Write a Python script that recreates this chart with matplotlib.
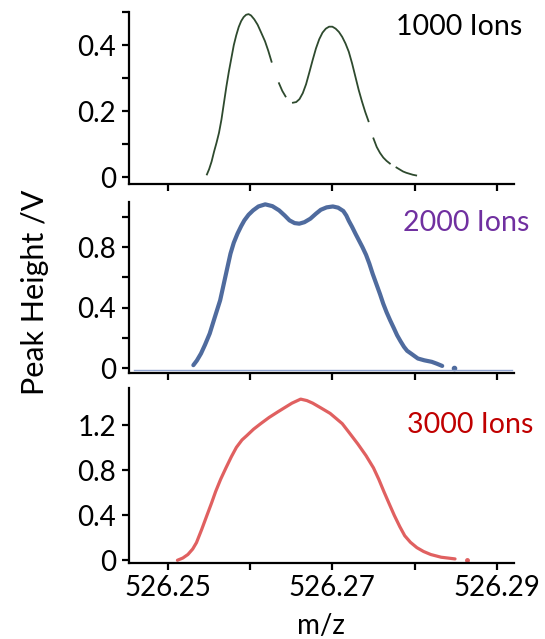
import numpy as np
import matplotlib
matplotlib.use('Agg')
import matplotlib.pyplot as plt

plt.rcParams['font.family'] = ['Lato', 'DejaVu Sans']

# 1000 ions trace (nan = gaps in the trace)
mz_1000 = [526.25473, 526.25500, 526.25530, 526.25560, 526.25590, 526.25620, 526.25650,
           526.25680, 526.25710, 526.25740, 526.25770, 526.25800, 526.25830, 526.25860,
           526.25890, 526.25920, 526.25950, 526.25980, 526.26010, 526.26050, 526.26090,
           526.26130, 526.26180, 526.26220, 526.26260, 526.26300, 526.26350, 526.26390,
           526.26430, 526.26470, 526.26520, 526.26560, 526.26600, 526.26640, 526.26680,
           526.26720, 526.26760, 526.26800, 526.26840, 526.26880, 526.26920, 526.26960,
           526.27000, 526.27040, 526.27080, 526.27120, 526.27160, 526.27200, 526.27240,
           526.27280, 526.27320, 526.27360, 526.27400, 526.27440, 526.27470, 526.27500,
           526.27540, 526.27580, 526.27620, 526.27660, 526.27700, 526.27740, 526.27780,
           526.27820, 526.27860, 526.27900, 526.27940, 526.27980, 526.28020]
pk_1000 = [0.009, 0.025, 0.048, 0.078, 0.105, 0.135, 0.175,
           0.225, 0.275, 0.320, 0.360, 0.400, 0.430, 0.455,
           0.473, 0.485, 0.492, 0.494, 0.490, 0.478, 0.462,
           0.440, 0.412, 0.383, 0.350, np.nan, 0.285, 0.262,
           0.245, np.nan, 0.226, 0.228, 0.237, 0.255, 0.282,
           0.318, 0.355, 0.390, 0.418, 0.438, 0.450, 0.456,
           0.456, 0.450, 0.440, 0.425, 0.405, 0.380, 0.345,
           0.305, 0.265, 0.230, 0.198, 0.170, np.nan, 0.118,
           0.092, 0.074, 0.060, 0.050, 0.042, np.nan, 0.030,
           0.024, 0.018, 0.014, 0.011, 0.008, 0.006]

# 2000 ions trace
mz_2000 = [526.25308, 526.25350, 526.25401, 526.25450, 526.25507, 526.25570, 526.25634,
           526.25665, 526.25697, 526.25730, 526.25760, 526.25800, 526.25845, 526.25890,
           526.25929, 526.25980, 526.26035, 526.26100, 526.26183, 526.26270, 526.26352,
           526.26420, 526.26478, 526.26540, 526.26597, 526.26660, 526.26732, 526.26800,
           526.26859, 526.26930, 526.27006, 526.27070, 526.27133, 526.27170, 526.27200,
           526.27240, 526.27281, 526.27365, 526.27410, 526.27450, 526.27490, 526.27534,
           526.27580, 526.27619, 526.27660, 526.27703, 526.27750, 526.27788, 526.27830,
           526.27872, 526.27910, 526.27957, 526.28000, 526.28041, 526.28120, 526.28210,
           526.28270, 526.28337]
pk_2000 = [0.020, 0.050, 0.097, 0.155, 0.229, 0.339, 0.449,
           0.525, 0.604, 0.685, 0.758, 0.830, 0.890, 0.940,
           0.978, 1.015, 1.044, 1.070, 1.084, 1.072, 1.044,
           1.010, 0.978, 0.960, 0.956, 0.966, 0.989, 1.022,
           1.048, 1.064, 1.070, 1.062, 1.040, 1.010, 0.975,
           0.935, 0.890, 0.802, 0.750, 0.692, 0.625, 0.559,
           0.490, 0.427, 0.370, 0.317, 0.263, 0.218, 0.178,
           0.141, 0.115, 0.097, 0.080, 0.064, 0.052, 0.042,
           0.030, 0.015]
mz_2000_dot = [526.28485]
pk_2000_dot = [0.004]
base_2000 = -0.015

# 3000 ions trace
mz_3000 = [526.25114, 526.25180, 526.25241, 526.25300, 526.25346, 526.25410, 526.25473,
           526.25530, 526.25579, 526.25640, 526.25705, 526.25770, 526.25832, 526.25900,
           526.25959, 526.26040, 526.26128, 526.26230, 526.26339, 526.26430, 526.26508,
           526.26614, 526.26690, 526.26761, 526.26860, 526.26973, 526.27120, 526.27210,
           526.27310, 526.27410, 526.27500, 526.27565, 526.27627, 526.27690, 526.27754,
           526.27820, 526.27881, 526.27950, 526.28029, 526.28110, 526.28198, 526.28324,
           526.28493]
pk_3000 = [0.000, 0.020, 0.051, 0.100, 0.157, 0.275, 0.399,
           0.510, 0.611, 0.720, 0.822, 0.920, 1.004, 1.070,
           1.109, 1.165, 1.215, 1.270, 1.321, 1.362, 1.397,
           1.433, 1.420, 1.397, 1.355, 1.306, 1.215, 1.130,
           1.034, 0.930, 0.822, 0.720, 0.611, 0.505, 0.399,
           0.300, 0.218, 0.160, 0.112, 0.078, 0.051, 0.027,
           0.012]
mz_3000_dot = [526.28641]
pk_3000_dot = [0.006]

xticks = [526.25, 526.26, 526.27, 526.28, 526.29]
xticklabels = ['526.25', '', '526.27', '', '526.29']

fig = plt.figure(figsize=(5.45, 6.39), dpi=100)
left, width = 0.236, 0.707
ax1 = fig.add_axes([left, 0.712, width, 0.269])
ax2 = fig.add_axes([left, 0.416, width, 0.268])
ax3 = fig.add_axes([left, 0.119, width, 0.274])

ax1.plot(mz_1000, pk_1000, color='#2e4a2e', lw=1.3)
ax2.plot(mz_2000, pk_2000, color='#4f6b9e', lw=3.0, solid_capstyle='round')
ax2.plot(mz_2000_dot, pk_2000_dot, 'o', color='#4f6b9e', ms=3)
ax2.axhline(base_2000, xmin=0.015, xmax=0.995, color='#8fa3cf', lw=1.0)
ax3.plot(mz_3000, pk_3000, color='#e06060', lw=2.3, solid_capstyle='round')
ax3.plot(mz_3000_dot, pk_3000_dot, 'o', color='#e06060', ms=2.5)

ax1.set_ylim(-0.02, 0.5)
ax1.set_yticks([0, 0.1, 0.2, 0.3, 0.4, 0.5])
ax1.set_yticklabels(['0', '', '0.2', '', '0.4', ''])
ax2.set_ylim(-0.033, 1.1)
ax2.set_yticks([0, 0.2, 0.4, 0.6, 0.8, 1.0])
ax2.set_yticklabels(['0', '', '0.4', '', '0.8', ''])
ax3.set_ylim(-0.024, 1.533)
ax3.set_yticks([0, 0.4, 0.8, 1.2])
ax3.set_yticklabels(['0', '0.4', '0.8', '1.2'])

for ax in (ax1, ax2, ax3):
    ax.set_xlim(526.2452, 526.2921)
    ax.set_xticks(xticks)
    for s in ('top', 'right'):
        ax.spines[s].set_visible(False)
    for s in ('left', 'bottom'):
        ax.spines[s].set_linewidth(1.6)
    ax.tick_params(direction='out', length=5, width=1.6, labelsize=20, pad=4)

ax1.set_xticklabels([])
ax2.set_xticklabels([])
ax3.set_xticklabels(xticklabels)
ax3.tick_params(axis='x', pad=4)

fig.text(0.958, 0.958, '1000 Ions', ha='right', va='center', fontsize=20.5, color='black')
fig.text(0.972, 0.651, '2000 Ions', ha='right', va='center', fontsize=20.5, color='#7030a0')
fig.text(0.978, 0.335, '3000 Ions', ha='right', va='center', fontsize=20.5, color='#c00000')

ax3.set_xlabel('m/z', fontsize=20, labelpad=8)
fig.text(0.065, 0.543, 'Peak Height /V', rotation=90, ha='center', va='center', fontsize=22)

fig.savefig('out.png', dpi=100)
